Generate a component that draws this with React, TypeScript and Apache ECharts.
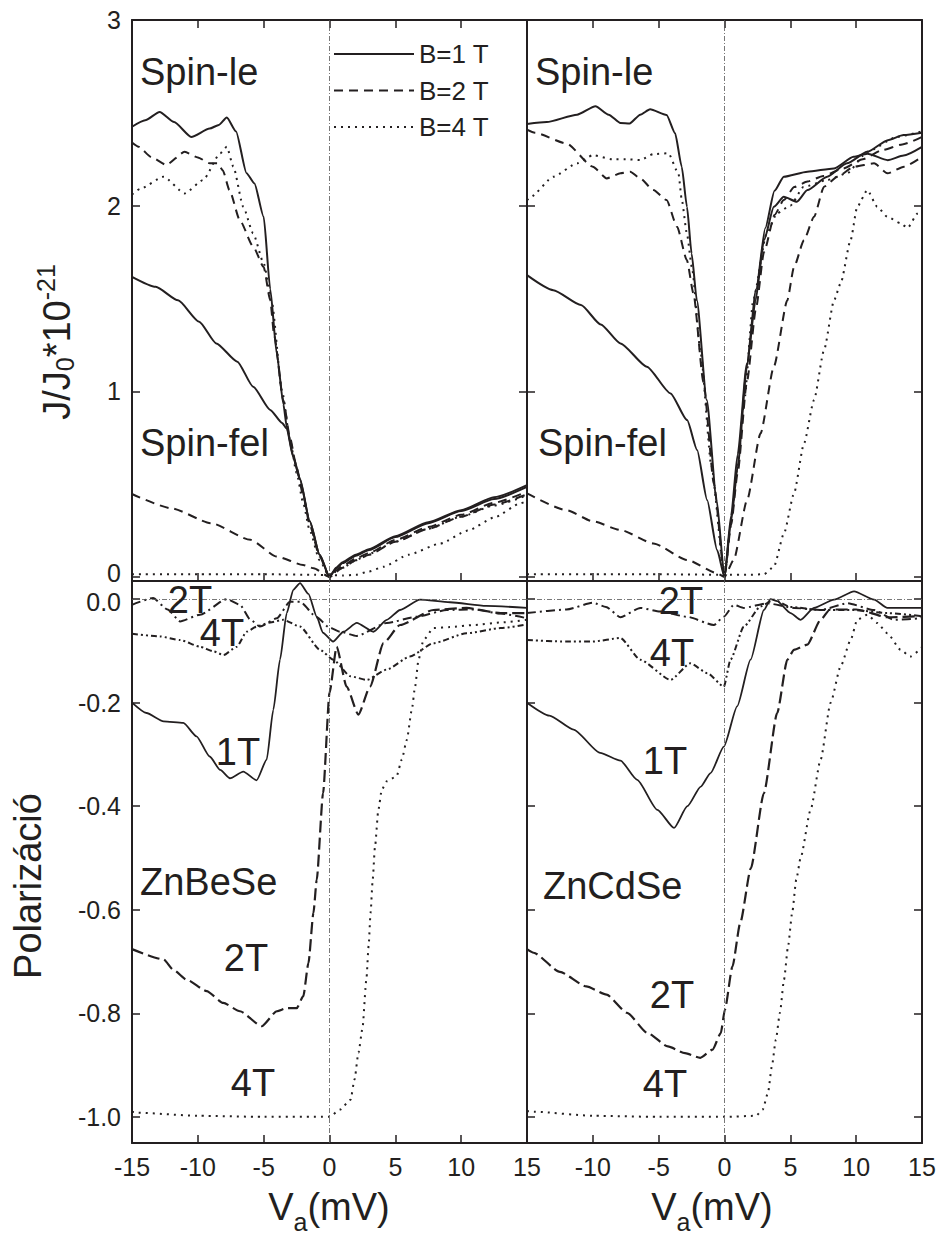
import React, { useEffect, useRef } from "react";
import * as echarts from "echarts";

// ---------- tick values ----------
const xTicks = [-15, -10, -5, 0, 5, 10, 15];
const jTicks = [0, 1, 2, 3];
const pTicks = [0, -0.2, -0.4, -0.6, -0.8, -1.0];

// ---------- ZnBeSe current density J/J0 *1e-21, [V (mV), J] ----------
const beLe1 = [[-15,2.425],[-14,2.46],[-12.9,2.505],[-11.8,2.45],[-10.5,2.37],[-9.1,2.415],[-8.4,2.435],[-7.8,2.475],[-7.1,2.4],[-6.3,2.175],[-5.7,2.12],[-5.0,1.94],[-4.5,1.55],[-4.0,1.2],[-3.5,0.93],[-3.25,0.81],[-2.75,0.65],[-2.25,0.53],[-1.5,0.3],[-0.75,0.12],[0,0],[0.5,0.045],[1,0.075],[2,0.115],[3,0.145],[5,0.215],[7.5,0.29],[10,0.355],[12.5,0.42],[15,0.485]];
const beFel1 = [[-15,1.617],[-13.2,1.563],[-11.5,1.49],[-9.9,1.375],[-8.6,1.258],[-7.0,1.16],[-5.8,1.025],[-4.5,0.9],[-3.6,0.83],[-3.25,0.8],[-2.75,0.645],[-2.25,0.525],[-1.5,0.3],[-0.75,0.12],[0,0],[0.5,0.05],[1,0.08],[2,0.12],[3,0.15],[5,0.22],[7.5,0.295],[10,0.36],[12.5,0.43],[15,0.495]];
const beLe2 = [[-15,2.34],[-14.5,2.317],[-13.5,2.26],[-12.4,2.22],[-11,2.29],[-10,2.26],[-9.1,2.228],[-8.5,2.228],[-8.1,2.19],[-7.6,2.084],[-6.8,1.92],[-5.8,1.78],[-5.0,1.67],[-4.5,1.49],[-4.2,1.3],[-3.5,0.95],[-3.0,0.75],[-2.5,0.59],[-2.0,0.44],[-1.5,0.28],[-0.75,0.11],[0,0],[0.5,0.035],[1,0.06],[2,0.1],[3,0.13],[5,0.2],[7.5,0.27],[10,0.335],[12.5,0.4],[15,0.46]];
const beFel2 = [[-15,0.447],[-12,0.37],[-9,0.29],[-6,0.2],[-4,0.11],[-2,0.065],[-1.2,0.047],[0,0],[1,0.05],[2,0.09],[3,0.12],[5,0.19],[7.5,0.26],[10,0.325],[12.5,0.39],[15,0.445]];
const beLe4 = [[-15,2.06],[-14.4,2.09],[-12.6,2.156],[-11,2.066],[-9.6,2.138],[-8.3,2.282],[-7.8,2.317],[-7.3,2.21],[-6.55,1.994],[-5.8,1.851],[-5.0,1.69],[-4.4,1.49],[-3.6,1.0],[-3.0,0.74],[-2.5,0.56],[-2.0,0.4],[-1.5,0.25],[-0.75,0.09],[0,0],[0.5,0.03],[1,0.05],[2,0.09],[3,0.125],[5,0.19],[7.5,0.26],[10,0.325],[12.5,0.385],[15,0.44]];
const beFel4 = [[-15,0.015],[-10,0.015],[-5,0.015],[-1,0.012],[0,0.01],[1,0.008],[2,0.012],[3,0.03],[4.1,0.055],[6,0.12],[8.4,0.18],[10.5,0.25],[12.5,0.32],[14.5,0.397],[15,0.41]];

// ---------- ZnCdSe current density ----------
const cdLe1 = [[-15,2.44],[-13.5,2.45],[-11.2,2.49],[-9.8,2.536],[-8.8,2.49],[-7.9,2.445],[-7.2,2.443],[-6.4,2.49],[-5.65,2.519],[-4.4,2.488],[-3.75,2.39],[-3.25,2.21],[-2.85,1.994],[-2.5,1.743],[-2.1,1.49],[-1.35,0.953],[-0.6,0.415],[0,0],[0.5,0.3],[1,0.594],[1.7,1.133],[2.36,1.49],[3,1.815],[3.75,1.994],[4.5,2.048],[5.5,2.021],[6.3,2.084],[7.8,2.156],[9.3,2.228],[10.85,2.29],[12.4,2.353],[13.6,2.38],[15,2.393]];
const cdFel1 = [[-15,1.626],[-13,1.545],[-10.9,1.465],[-9.4,1.36],[-7.9,1.258],[-5.9,1.133],[-4.1,0.989],[-2.84,0.845],[-2.08,0.684],[-1.32,0.415],[-0.56,0.145],[0,0],[0.5,0.33],[1,0.66],[1.7,1.15],[2.4,1.55],[3.1,1.88],[3.8,2.08],[4.5,2.156],[6.3,2.183],[8.3,2.2],[9.8,2.263],[10.85,2.28],[12.4,2.245],[13.6,2.27],[15,2.317]];
const cdLe2 = [[-15,2.41],[-14.4,2.393],[-12,2.335],[-10,2.21],[-8.95,2.147],[-7.9,2.174],[-7.16,2.183],[-6.4,2.147],[-5.4,2.084],[-4.4,2.03],[-3.6,1.886],[-2.86,1.707],[-2.36,1.528],[-1.6,1.05],[-0.8,0.5],[0,0],[0.5,0.28],[1,0.56],[1.7,1.05],[2.4,1.45],[3,1.75],[3.8,1.95],[4.5,2.03],[5.3,2.1],[6.3,2.13],[7.5,2.16],[9,2.2],[10.5,2.25],[12,2.3],[13.5,2.33],[15,2.37]];
const cdFel2 = [[-15,0.45],[-12,0.36],[-10,0.3],[-7.9,0.253],[-5.4,0.181],[-2.84,0.092],[-0.56,0.02],[0,0],[0.7,0.092],[1.72,0.415],[2.74,0.774],[3.75,1.133],[4.77,1.49],[5.28,1.67],[6.04,1.815],[6.8,1.94],[7.56,2.102],[8.57,2.156],[9.84,2.21],[11.36,2.228],[12.37,2.174],[13.64,2.21],[15,2.263]];
const cdLe4 = [[-15,2.03],[-14.7,2.048],[-13,2.156],[-11.2,2.228],[-10,2.272],[-8.5,2.25],[-7.5,2.25],[-6.4,2.246],[-5.4,2.278],[-4.26,2.282],[-3.5,2.174],[-3.24,2.03],[-2.86,1.851],[-2.48,1.67],[-1.8,1.2],[-1,0.6],[0,0],[0.5,0.3],[1,0.6],[1.5,0.95],[2.2,1.5],[3.2,1.85],[4,1.96],[5,2.0],[6,2.1],[7.8,2.138],[9.3,2.174],[10.85,2.29],[13.1,2.371],[15,2.4]];
const cdFel4 = [[-15,0.015],[-10,0.015],[-5,0.015],[0,0.012],[2,0.012],[3,0.015],[3.75,0.055],[4.52,0.235],[5.28,0.45],[6.04,0.72],[6.8,0.953],[7.56,1.222],[8.32,1.49],[8.82,1.581],[9.58,1.815],[10.08,1.994],[10.85,2.084],[11.6,1.994],[12.37,1.94],[13.38,1.905],[13.9,1.88],[14.67,1.958],[15,1.97]];

// ---------- ZnBeSe polarization ----------
const beP1 = [[-15,-0.2],[-13.9,-0.22],[-12.6,-0.236],[-11.1,-0.239],[-10.1,-0.265],[-9.1,-0.304],[-8.3,-0.33],[-7.56,-0.346],[-6.55,-0.333],[-5.54,-0.35],[-4.77,-0.31],[-4.27,-0.214],[-3.76,-0.117],[-3.25,-0.027],[-2.75,0.018],[-2.24,0.031],[-1.6,0.01],[-0.97,-0.034],[-0.5,-0.065],[0.27,-0.082],[1.06,-0.063],[2.07,-0.046],[3.33,-0.063],[4.35,-0.04],[5.36,-0.021],[6.87,-0.001],[9.15,-0.006],[11.9,-0.013],[15,-0.017]];
const beP2 = [[-15,-0.676],[-12.6,-0.696],[-11.86,-0.716],[-10.85,-0.735],[-9.33,-0.757],[-8.07,-0.78],[-6.8,-0.796],[-5.15,-0.825],[-4.0,-0.796],[-3.25,-0.79],[-2.49,-0.79],[-1.99,-0.767],[-1.6,-0.703],[-1.22,-0.606],[-0.97,-0.542],[-0.49,-0.375],[0,-0.181],[0.54,-0.092],[1.3,-0.169],[2.19,-0.223],[3.08,-0.169],[4.1,-0.085],[5.36,-0.05],[7.89,-0.021],[10.4,-0.017],[13,-0.027],[15,-0.027]];
const beP4 = [[-15,-0.99],[-14.6,-0.992],[-10,-0.998],[-5,-1.0],[0,-1.0],[0.8,-0.986],[1.6,-0.967],[1.9,-0.928],[2.2,-0.876],[2.5,-0.83],[2.8,-0.735],[2.97,-0.67],[3.12,-0.606],[3.28,-0.542],[3.45,-0.48],[3.71,-0.407],[3.97,-0.368],[4.35,-0.352],[5.1,-0.342],[5.49,-0.31],[5.87,-0.272],[6.25,-0.214],[6.5,-0.169],[6.76,-0.117],[7.14,-0.079],[7.89,-0.056],[9.15,-0.054],[11,-0.05],[13,-0.045],[15,-0.04]];
const beDD2 = [[-15,-0.011],[-13.4,0.002],[-12.3,-0.02],[-11.35,-0.043],[-9.83,-0.03],[-7.8,0.0],[-6.8,-0.011],[-6.0,-0.04],[-5.28,-0.053],[-4.0,-0.037],[-3.0,-0.005],[-2.24,-0.005],[-0.97,-0.035],[0,-0.055],[0.8,-0.063],[2.07,-0.071],[4.35,-0.046],[6.63,-0.034],[8.9,-0.021],[11,-0.02],[13,-0.028],[15,-0.037]];
const beDD4 = [[-15,-0.067],[-12.9,-0.072],[-11.35,-0.079],[-9.83,-0.092],[-8.8,-0.101],[-8.05,-0.108],[-7.04,-0.092],[-6.29,-0.063],[-5.53,-0.053],[-4.5,-0.045],[-3.5,-0.04],[-2.24,-0.053],[-0.72,-0.098],[0.29,-0.117],[1.58,-0.149],[2.84,-0.156],[4.35,-0.136],[6.1,-0.111],[7.9,-0.085],[10.4,-0.066],[13,-0.056],[15,-0.049]];

// ---------- ZnCdSe polarization ----------
const cdP1 = [[-15,-0.2],[-13.3,-0.225],[-11.46,-0.252],[-9.45,-0.297],[-7.9,-0.312],[-6.63,-0.349],[-5.1,-0.407],[-3.83,-0.442],[-2.82,-0.4],[-1.8,-0.362],[-1.06,-0.336],[-0.05,-0.285],[0.96,-0.207],[1.98,-0.117],[2.99,-0.021],[3.5,0.0],[4.0,-0.004],[5.02,-0.027],[5.78,-0.04],[6.79,-0.017],[8.32,-0.001],[9.84,0.015],[11.36,-0.001],[12.37,-0.017],[15,-0.017]];
const cdP2 = [[-15,-0.676],[-14.5,-0.683],[-12.5,-0.72],[-10.5,-0.748],[-8.96,-0.764],[-7.4,-0.799],[-5.85,-0.838],[-4.3,-0.864],[-3,-0.877],[-1.84,-0.886],[-0.9,-0.87],[-0.28,-0.838],[0.03,-0.793],[0.6,-0.71],[1.2,-0.625],[2.0,-0.52],[2.99,-0.375],[4.0,-0.22],[4.77,-0.117],[5.27,-0.098],[6.29,-0.088],[7.3,-0.04],[8.0,-0.02],[10,-0.02],[12.4,-0.035],[15,-0.033]];
const cdP4 = [[-15,-0.989],[-14.5,-0.99],[-10,-0.998],[-5,-1.0],[0,-1.0],[2.4,-0.998],[2.9,-0.986],[3.3,-0.954],[3.6,-0.902],[3.9,-0.851],[4.21,-0.799],[4.52,-0.735],[4.83,-0.67],[5.14,-0.606],[5.45,-0.542],[5.78,-0.5],[6.54,-0.407],[7.3,-0.31],[8.06,-0.2],[8.82,-0.13],[9.58,-0.079],[10.08,-0.04],[10.85,-0.03],[11.6,-0.046],[12.37,-0.066],[13.38,-0.098],[14.1,-0.111],[15,-0.093]];
const cdDD2 = [[-15,-0.027],[-12,-0.02],[-10,-0.007],[-9,-0.015],[-7.9,-0.035],[-6.4,-0.017],[-4.9,-0.024],[-2.84,-0.034],[-0.81,-0.05],[-0.05,-0.034],[0.71,-0.011],[1.47,-0.017],[3.24,-0.008],[5.27,-0.017],[7.3,-0.021],[9.33,-0.008],[11.36,-0.021],[12.88,-0.04],[15,-0.037]];
const cdDD4 = [[-15,-0.079],[-12,-0.082],[-10,-0.082],[-7.9,-0.075],[-6.4,-0.117],[-4.1,-0.156],[-2.6,-0.124],[-1.3,-0.143],[-0.05,-0.169],[0.46,-0.117],[1.47,-0.053],[2.74,-0.014],[3.75,-0.001],[5,-0.015],[7.3,-0.021],[9.84,-0.021],[12.37,-0.027],[15,-0.033]];

const legendNames = ["B=1 T", "B=2 T", "B=4 T"];

// ---------- styling ----------
const FONT = '"Liberation Sans", Arial, Helvetica, sans-serif';
const INK = "#231f20";
const SOLID = { type: "solid", width: 2 };
const DASH = { type: [9, 6], width: 2 };
const DASH_P = { type: [12, 5], width: 2.2 };
const DOT = { type: [2, 5], width: 2 };
const DD2 = { type: [9, 4, 2, 4], width: 2 };
const DD4 = { type: [6, 3, 2, 3, 2, 3], width: 2 };

function buildOption() {
  const grids = [
    { left: 132, top: 20, width: 395, height: 561 },
    { left: 527, top: 20, width: 395, height: 561 },
    { left: 132, top: 581, width: 395, height: 562 },
    { left: 527, top: 581, width: 395, height: 562 },
  ];
  const axisLine = { show: true, onZero: false, lineStyle: { color: INK, width: 2 } };
  const tick = { show: true, inside: true, length: 8, lineStyle: { color: INK, width: 1.5 } };
  const labelStyle = { color: INK, fontSize: 25, fontFamily: FONT };

  const xBase = (grid: number, position: string, showLabel: boolean, hideMin = false) => ({
    type: "value", gridIndex: grid, position, min: -15, max: 15, interval: 5,
    axisLine, axisTick: tick, splitLine: { show: false },
    axisLabel: showLabel
      ? { ...labelStyle, margin: 11, formatter: (v: number) => (hideMin && v === -15 ? "" : String(v)) }
      : { show: false },
  });
  // the two zero labels ("0" of J and "0.0" of P) sit on the shared frame line; nudge them apart
  const yBase = (grid: number, position: string, top: boolean, showLabel: boolean) => ({
    type: "value", gridIndex: grid, position,
    min: top ? -0.0215 : -1.0505, max: top ? 3 : 0.035,
    axisLine, splitLine: { show: false },
    axisTick: { ...tick, customValues: top ? jTicks : pTicks },
    axisLabel: showLabel
      ? {
          ...labelStyle, margin: 11, customValues: top ? jTicks : pTicks,
          formatter: (v: number) => {
            if (Math.abs(v) < 1e-9) return top ? "{up|0}" : "{dn|0.0}";
            return top ? String(Math.round(v)) : v.toFixed(1);
          },
          rich: {
            up: { fontSize: 25, fontFamily: FONT, color: INK, padding: [0, 0, 8, 0] },
            dn: { fontSize: 25, fontFamily: FONT, color: INK, padding: [6, 0, 0, 0] },
          },
        }
      : { show: false },
  });

  const xAxis = [
    xBase(0, "bottom", false), xBase(0, "top", false),
    xBase(1, "bottom", false), xBase(1, "top", false),
    xBase(2, "bottom", true), xBase(3, "bottom", true, true),
  ];
  const yAxis = [
    yBase(0, "left", true, true), yBase(0, "right", true, false),
    yBase(1, "left", true, false), yBase(1, "right", true, false),
    yBase(2, "left", false, true),
    yBase(3, "left", false, false), yBase(3, "right", false, false),
  ];

  const zeroLine = (withH: boolean) => ({
    silent: true, symbol: ["none", "none"], label: { show: false }, animation: false,
    lineStyle: { color: "#555", width: 0.8, type: [5, 2, 1, 2] },
    data: withH ? [{ xAxis: 0 }, { yAxis: 0 }] : [{ xAxis: 0 }],
  });

  const mk = (name: string, data: number[][], xi: number, yi: number, ls: any, extra: any = {}) => ({
    type: "line", name, data, xAxisIndex: xi, yAxisIndex: yi,
    symbol: "none", showSymbol: false, smooth: 0.2, smoothMonotone: "x",
    lineStyle: { color: INK, ...ls }, itemStyle: { color: INK },
    silent: true, z: 3, ...extra,
  });

  const series = [
    // top-left ZnBeSe J
    mk(legendNames[0], beLe1, 0, 0, SOLID, { markLine: zeroLine(false) }),
    mk(legendNames[1], beLe2, 0, 0, DASH),
    mk(legendNames[2], beLe4, 0, 0, DOT),
    mk("ZnBeSe spin-fel 1 T", beFel1, 0, 0, SOLID),
    mk("ZnBeSe spin-fel 2 T", beFel2, 0, 0, DASH),
    mk("ZnBeSe spin-fel 4 T", beFel4, 0, 0, DOT),
    // top-right ZnCdSe J
    mk("ZnCdSe spin-le 1 T", cdLe1, 2, 2, SOLID, { markLine: zeroLine(false) }),
    mk("ZnCdSe spin-le 2 T", cdLe2, 2, 2, DASH),
    mk("ZnCdSe spin-le 4 T", cdLe4, 2, 2, DOT),
    mk("ZnCdSe spin-fel 1 T", cdFel1, 2, 2, SOLID),
    mk("ZnCdSe spin-fel 2 T", cdFel2, 2, 2, DASH),
    mk("ZnCdSe spin-fel 4 T", cdFel4, 2, 2, DOT),
    // bottom-left ZnBeSe polarization
    mk("ZnBeSe P 1T", beP1, 4, 4, { type: "solid", width: 1.8 }, { markLine: zeroLine(true) }),
    mk("ZnBeSe P 2T", beP2, 4, 4, DASH_P),
    mk("ZnBeSe P 4T", beP4, 4, 4, DOT),
    mk("ZnBeSe P 2T (b)", beDD2, 4, 4, DD2),
    mk("ZnBeSe P 4T (b)", beDD4, 4, 4, DD4),
    // bottom-right ZnCdSe polarization
    mk("ZnCdSe P 1T", cdP1, 5, 5, { type: "solid", width: 1.8 }, { markLine: zeroLine(true) }),
    mk("ZnCdSe P 2T", cdP2, 5, 5, DASH_P),
    mk("ZnCdSe P 4T", cdP4, 5, 5, DOT),
    mk("ZnCdSe P 2T (b)", cdDD2, 5, 5, DD2),
    mk("ZnCdSe P 4T (b)", cdDD4, 5, 5, DD4),
  ];

  const big = (text: string, x: number, y: number, align = "left") => ({
    type: "text", x, y, z: 10, silent: true,
    style: { text, fontSize: 38, fontFamily: FONT, fill: INK, align, verticalAlign: "middle" },
  });

  const graphic = [
    big("Spin-le", 140, 72),
    big("Spin-le", 535, 72),
    big("Spin-fel", 140, 443),
    big("Spin-fel", 538, 443),
    big("2T", 190, 600, "center"),
    big("4T", 222, 633, "center"),
    big("1T", 238, 752, "center"),
    big("ZnBeSe", 140, 882),
    big("2T", 246, 958, "center"),
    big("4T", 253, 1083, "center"),
    big("2T", 681, 601, "center"),
    big("4T", 672, 653, "center"),
    big("1T", 665, 761, "center"),
    big("ZnCdSe", 543, 886),
    big("2T", 672, 995, "center"),
    big("4T", 665, 1084, "center"),
    {
      type: "text", x: 57, y: 342, rotation: Math.PI / 2, z: 10, silent: true,
      style: {
        text: "{a|J/J}{s|0}{a|*10}{p|-21}", align: "center", verticalAlign: "middle", fill: INK,
        rich: {
          a: { fontSize: 38, fontFamily: FONT, fill: INK, lineHeight: 48, verticalAlign: "middle" },
          s: { fontSize: 25, fontFamily: FONT, fill: INK, lineHeight: 25, verticalAlign: "bottom", padding: [0, 0, 4, 0] },
          p: { fontSize: 25, fontFamily: FONT, fill: INK, lineHeight: 25, verticalAlign: "top" },
        },
      },
    },
    {
      type: "text", x: 28, y: 886, rotation: Math.PI / 2, z: 10, silent: true,
      style: { text: "Polarizáció", fontSize: 38, fontFamily: FONT, fill: INK, align: "center", verticalAlign: "middle" },
    },
    ...[329, 712].map((cx) => ({
      type: "text", x: cx, y: 1207, z: 10, silent: true,
      style: {
        text: "{a|V}{s|a}{a|(mV)}", align: "center", verticalAlign: "middle", fill: INK,
        rich: {
          a: { fontSize: 38, fontFamily: FONT, fill: INK, lineHeight: 54, verticalAlign: "middle" },
          s: { fontSize: 25, fontFamily: FONT, fill: INK, lineHeight: 25, verticalAlign: "bottom" },
        },
      },
    })),
  ];

  return {
    animation: false,
    backgroundColor: "#ffffff",
    textStyle: { fontFamily: FONT },
    grid: grids,
    xAxis,
    yAxis,
    legend: {
      data: legendNames, orient: "vertical", left: 333, top: 41, padding: 0,
      itemWidth: 80, itemHeight: 4, itemGap: 10.5, selectedMode: false,
      itemStyle: { opacity: 0 },
      textStyle: { fontSize: 26, color: INK, fontFamily: FONT },
    },
    series,
    graphic,
  };
}

export default function App() {
  const ref = useRef<HTMLDivElement>(null);
  useEffect(() => {
    if (!ref.current) return;
    const chart = echarts.init(ref.current, null, { renderer: "svg" });
    chart.setOption(buildOption() as any);
    return () => chart.dispose();
  }, []);
  return (
    <div
      ref={ref}
      style={{ position: "absolute", left: 0, top: 0, width: 941, height: 1239, background: "#fff" }}
    />
  );
}
